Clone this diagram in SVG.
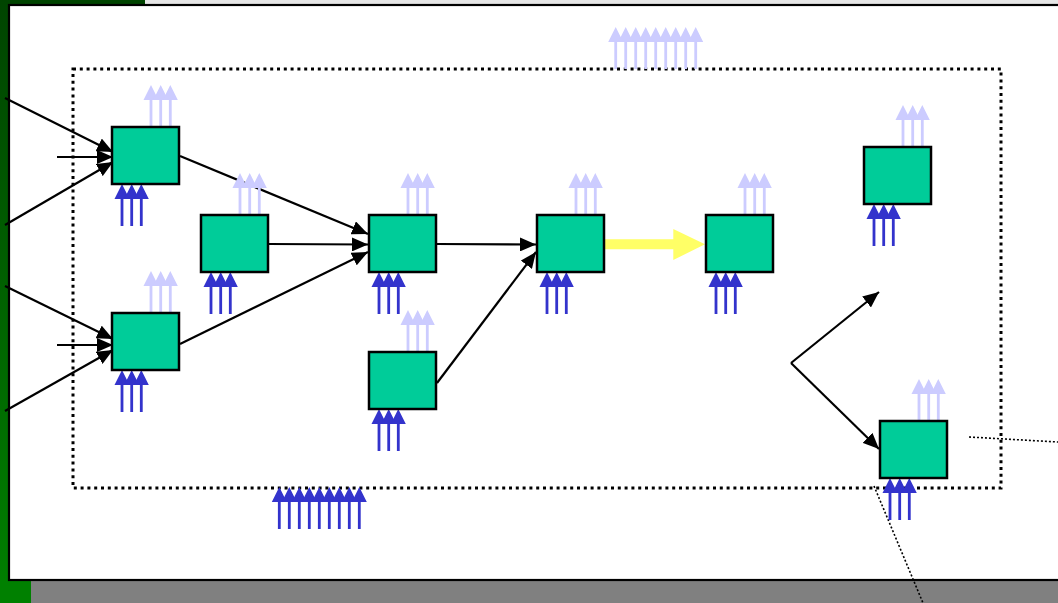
<svg xmlns="http://www.w3.org/2000/svg" xmlns:xlink="http://www.w3.org/1999/xlink" width="1058" height="603" viewBox="0 0 1058 603">
<style>
.box{fill:#00CC99;stroke:#000;stroke-width:2.5}
.conn{stroke:#000;stroke-width:2.2;fill:none}
.lt{fill:#CCCCFF}
.bl{fill:#3333CC}
.dot{stroke:#000;stroke-width:1.6;stroke-dasharray:2 2;fill:none}
</style>
<defs>
<linearGradient id="gl" x1="0" y1="0" x2="0" y2="1">
<stop offset="0" stop-color="#004400"/>
<stop offset="1" stop-color="#008000"/>
</linearGradient>
<marker id="ah" markerUnits="userSpaceOnUse" markerWidth="17" markerHeight="14" refX="16" refY="7" orient="auto">
<path d="M0,0 L16,7 L0,14 Z" fill="#000"/>
</marker>
<path id="ua" d="M0,0 L7.5,15 L1.4,15 L1.4,42 L-1.4,42 L-1.4,15 L-7.5,15 Z"/>
<g id="lt3" class="lt"><use xlink:href="#ua" x="0"/><use xlink:href="#ua" x="9.7"/><use xlink:href="#ua" x="19.3"/></g>
<g id="bl3" class="bl"><use xlink:href="#ua" x="0"/><use xlink:href="#ua" x="9.7"/><use xlink:href="#ua" x="19.3"/></g>
</defs>
<!-- background -->
<rect x="0" y="0" width="1058" height="603" fill="#E6E6E6"/>
<rect x="0" y="0" width="145" height="6" fill="#004400"/>
<rect x="0" y="0" width="10" height="603" fill="url(#gl)"/>
<rect x="0" y="580" width="31" height="23" fill="#008000"/>
<rect x="31" y="581" width="1027" height="22" fill="#808080"/>
<rect x="9" y="5" width="1060" height="575" fill="#FFFFFF" stroke="#000" stroke-width="2.2"/>
<rect x="73" y="69" width="928" height="419" fill="none" stroke="#000" stroke-width="3" stroke-dasharray="3 3.8"/>
<g id="flows-top" class="lt">
<use xlink:href="#ua" x="615.7" y="27"/><use xlink:href="#ua" x="625.7" y="27"/><use xlink:href="#ua" x="635.7" y="27"/><use xlink:href="#ua" x="645.7" y="27"/><use xlink:href="#ua" x="655.7" y="27"/><use xlink:href="#ua" x="665.7" y="27"/><use xlink:href="#ua" x="675.7" y="27"/><use xlink:href="#ua" x="685.7" y="27"/><use xlink:href="#ua" x="695.7" y="27"/>
</g>
<g id="flows-bottom" class="bl">
<use xlink:href="#ua" x="279.3" y="487"/><use xlink:href="#ua" x="289.3" y="487"/><use xlink:href="#ua" x="299.3" y="487"/><use xlink:href="#ua" x="309.3" y="487"/><use xlink:href="#ua" x="319.3" y="487"/><use xlink:href="#ua" x="329.3" y="487"/><use xlink:href="#ua" x="339.3" y="487"/><use xlink:href="#ua" x="349.3" y="487"/><use xlink:href="#ua" x="359.3" y="487"/>
</g>
<g id="connectors">
<line class="conn" x1="5" y1="98" x2="113" y2="152" marker-end="url(#ah)"/>
<line class="conn" x1="57" y1="157" x2="113" y2="157" marker-end="url(#ah)"/>
<line class="conn" x1="5" y1="225" x2="113" y2="162" marker-end="url(#ah)"/>
<line class="conn" x1="5" y1="286" x2="113" y2="339" marker-end="url(#ah)"/>
<line class="conn" x1="57" y1="345" x2="113" y2="345" marker-end="url(#ah)"/>
<line class="conn" x1="5" y1="411" x2="113" y2="350" marker-end="url(#ah)"/>
<line class="conn" x1="180" y1="156" x2="368" y2="234" marker-end="url(#ah)"/>
<line class="conn" x1="269" y1="244" x2="368" y2="244.5" marker-end="url(#ah)"/>
<line class="conn" x1="180" y1="344" x2="368" y2="252" marker-end="url(#ah)"/>
<line class="conn" x1="437" y1="244" x2="536" y2="244.5" marker-end="url(#ah)"/>
<line class="conn" x1="437" y1="383" x2="536" y2="252" marker-end="url(#ah)"/>
<path d="M605,239.3 L673.3,239.3 L673.3,229 L705,244.3 L673.3,260 L673.3,249.3 L605,249.3 Z" fill="#FFFF66"/>
<line class="conn" x1="791" y1="363" x2="879" y2="292" marker-end="url(#ah)"/>
<line class="conn" x1="791" y1="363" x2="879" y2="449" marker-end="url(#ah)"/>
<line class="dot" x1="969" y1="437" x2="1058" y2="442"/>
<line class="dot" x1="874" y1="486" x2="923" y2="603"/>
</g>
<g id="n1"><use xlink:href="#lt3" x="151" y="85"/><use xlink:href="#bl3" x="122" y="184"/><rect class="box" x="112" y="127" width="67" height="57"/></g>
<g id="n2"><use xlink:href="#lt3" x="240" y="173"/><use xlink:href="#bl3" x="211" y="272"/><rect class="box" x="201" y="215" width="67" height="57"/></g>
<g id="n3"><use xlink:href="#lt3" x="408" y="173"/><use xlink:href="#bl3" x="379" y="272"/><rect class="box" x="369" y="215" width="67" height="57"/></g>
<g id="n4"><use xlink:href="#lt3" x="576" y="173"/><use xlink:href="#bl3" x="547" y="272"/><rect class="box" x="537" y="215" width="67" height="57"/></g>
<g id="n5"><use xlink:href="#lt3" x="745" y="173"/><use xlink:href="#bl3" x="716" y="272"/><rect class="box" x="706" y="215" width="67" height="57"/></g>
<g id="n6"><use xlink:href="#lt3" x="151" y="271"/><use xlink:href="#bl3" x="122" y="370"/><rect class="box" x="112" y="313" width="67" height="57"/></g>
<g id="n7"><use xlink:href="#lt3" x="408" y="310"/><use xlink:href="#bl3" x="379" y="409"/><rect class="box" x="369" y="352" width="67" height="57"/></g>
<g id="n8"><use xlink:href="#lt3" x="903" y="105"/><use xlink:href="#bl3" x="874" y="204"/><rect class="box" x="864" y="147" width="67" height="57"/></g>
<g id="n9"><use xlink:href="#lt3" x="919" y="379"/><use xlink:href="#bl3" x="890" y="478"/><rect class="box" x="880" y="421" width="67" height="57"/></g>
</svg>
